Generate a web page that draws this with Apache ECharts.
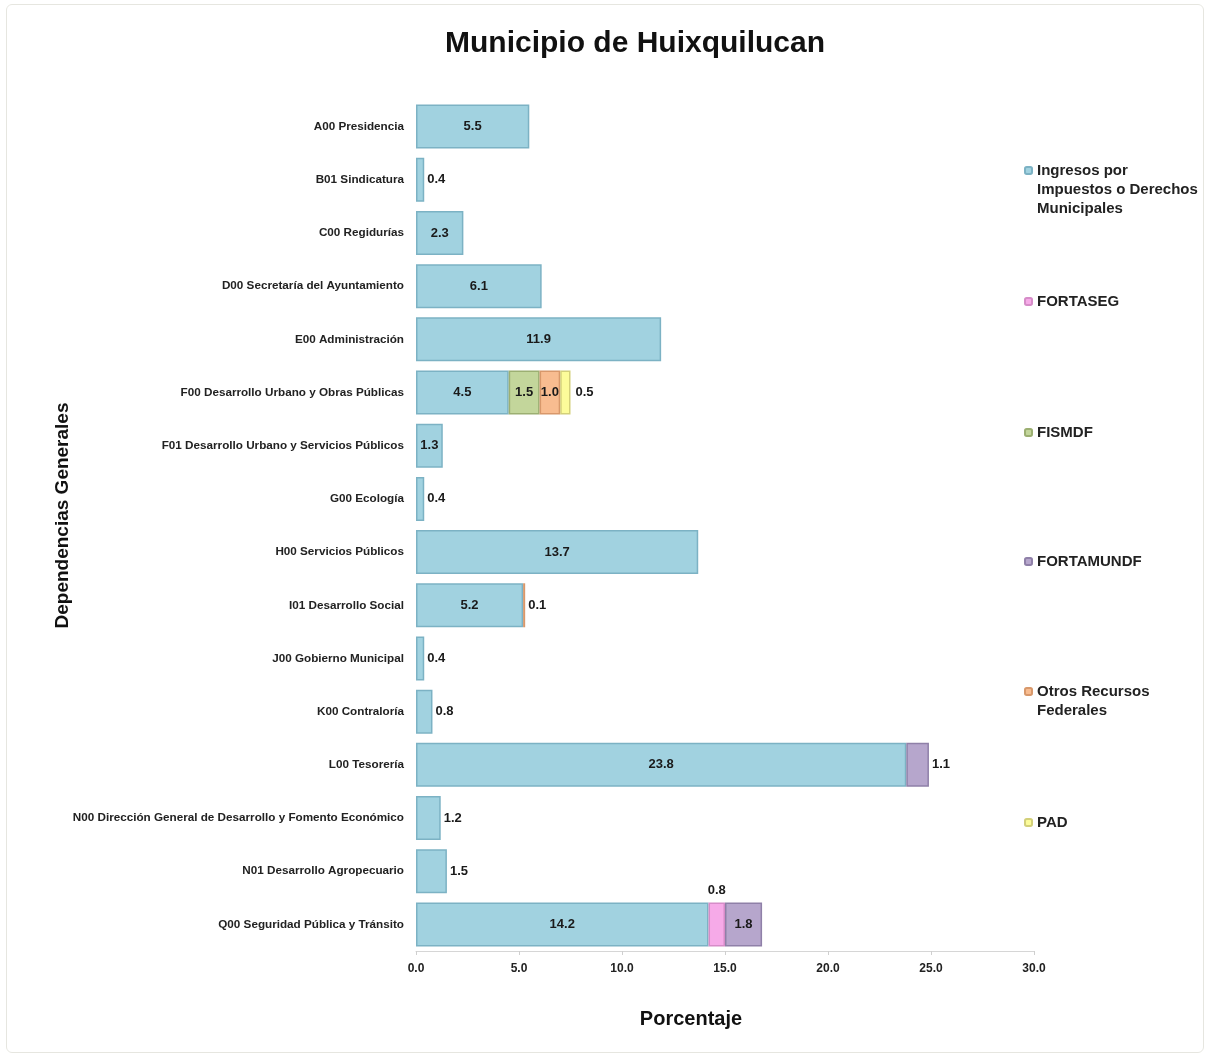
<!DOCTYPE html>
<html>
<head>
<meta charset="utf-8">
<script src="https://cdn.jsdelivr.net/npm/echarts@6/dist/echarts.min.js"></script>
<style>
  html, body { margin: 0; padding: 0; background: #fff; }
  #chart { position: absolute; left: 0; top: 0; width: 1206px; height: 1057px; }
  #frame { position: absolute; left: 6px; top: 4px; width: 1196px; height: 1047px;
           border: 1px solid #e6e6e0; border-radius: 6px; pointer-events: none; }
</style>
</head>
<body>
<div id="chart"></div>
<div id="frame"></div>
<script>
// categorias (dependencias)
const categories = [
  'A00 Presidencia',
  'B01 Sindicatura',
  'C00 Regidurías',
  'D00 Secretaría del Ayuntamiento',
  'E00 Administración',
  'F00 Desarrollo Urbano y Obras Públicas',
  'F01 Desarrollo Urbano y Servicios Públicos',
  'G00 Ecología',
  'H00 Servicios Públicos',
  'I01 Desarrollo Social',
  'J00 Gobierno Municipal',
  'K00 Contraloría',
  'L00 Tesorería',
  'N00 Dirección General de Desarrollo y Fomento Económico',
  'N01 Desarrollo Agropecuario',
  'Q00 Seguridad Pública y Tránsito'
]

const ingresos   = [5.5, 0.4, 2.3, 6.1, 11.9, 4.5, 1.3, 0.4, 13.7, 5.2, 0.4, 0.8, 23.8, 1.2, 1.5, 14.2]
const fortaseg   = [null, null, null, null, null, null, null, null, null, null, null, null, null, null, null, 0.8]
const fismdf     = [null, null, null, null, null, 1.5, null, null, null, null, null, null, null, null, null, null]
const fortamundf = [null, null, null, null, null, null, null, null, null, null, null, null, 1.1, null, null, 1.8]
const otros      = [null, null, null, null, null, 1.0, null, null, null, 0.1, null, null, null, null, null, null]
const pad        = [null, null, null, null, null, 0.5, null, null, null, null, null, null, null, null, null, null]

const xTicks = [0, 5, 10, 15, 20, 25, 30]

// config de cada serie: colores, posicion de etiquetas y leyenda
const seriesDefs = [
  { name: 'Ingresos por Impuestos o Derechos Municipales', legendLines: ['Ingresos por', 'Impuestos o Derechos', 'Municipales'],
    data: ingresos, color: '#a1d2e0', border: '#7cb2c4', pos: 'inside', outside: [1, 7, 10, 11, 13, 14], legendTop: 123 },
  { name: 'FORTASEG', legendLines: ['FORTASEG'], data: fortaseg, color: '#f6aae8', border: '#d68cc8', pos: 'top', outside: [], legendTop: 292 },
  { name: 'FISMDF', legendLines: ['FISMDF'], data: fismdf, color: '#c3d69b', border: '#9caf72', pos: 'inside', outside: [], legendTop: 423 },
  { name: 'FORTAMUNDF', legendLines: ['FORTAMUNDF'], data: fortamundf, color: '#b6a6cc', border: '#8f80a8', pos: 'inside', outside: [12], legendTop: 552 },
  { name: 'Otros Recursos Federales', legendLines: ['Otros Recursos', 'Federales'], data: otros, color: '#f8bc90', border: '#d8986b', pos: 'inside', outside: [9], legendTop: 663 },
  { name: 'PAD', legendLines: ['PAD'], data: pad, color: '#fcfc9a', border: '#d3d07a', pos: 'right', outside: [], legendTop: 813 }
]

const chart = echarts.init(document.getElementById('chart'))

const FONT = 'Liberation Sans, Arial, sans-serif'
const LINE_H = 19

const series = seriesDefs.map(def => ({
  name: def.name,
  type: 'bar',
  stack: 'total',
  barWidth: 44,
  itemStyle: { color: def.color, borderColor: def.border, borderWidth: 1.5 },
  label: {
    show: true,
    position: def.pos,
    color: '#1a1a1a',
    fontFamily: FONT,
    fontWeight: 'bold',
    fontSize: 13,
    formatter: p => (p.value == null ? '' : Number(p.value).toFixed(1))
  },
  data: def.data.map((v, i) => {
    if (v == null) return '-'
    if (def.outside.indexOf(i) >= 0) {
      return { value: v, label: { position: 'right', distance: 3 } }
    }
    return v
  })
}))

// una leyenda por serie (posiciones como en el original)
// lineas en blanco delante para que el icono quede junto a la primera linea
const legends = seriesDefs.map(def => {
  const n = def.legendLines.length
  const text = new Array(n - 1).fill('').concat(def.legendLines).join('\n')
  return {
    orient: 'vertical',
    left: 1024,
    top: def.legendTop,
    padding: 0,
    itemWidth: 7,
    itemHeight: 7,
    selectedMode: false,
    data: [def.name],
    formatter: () => text,
    textStyle: {
      fontFamily: FONT,
      fontWeight: 'bold',
      fontSize: 15,
      color: '#222',
      lineHeight: LINE_H
    }
  }
})

const option = {
  animation: false,
  backgroundColor: '#fff',
  title: {
    text: 'Municipio de Huixquilucan',
    left: 440,
    top: 24,
    textStyle: { fontFamily: FONT, fontWeight: 'bold', fontSize: 30, color: '#111' }
  },
  legend: legends,
  grid: { left: 416, right: 172, top: 100, bottom: 106, containLabel: false },
  xAxis: {
    type: 'value',
    min: xTicks[0],
    max: xTicks[xTicks.length - 1],
    interval: xTicks[1] - xTicks[0],
    name: 'Porcentaje',
    nameLocation: 'middle',
    nameGap: 58,
    nameMoveOverlap: false,
    nameTextStyle: { fontFamily: FONT, fontWeight: 'bold', fontSize: 20, color: '#111', padding: [0, 68, 0, 0] },
    axisLine: { show: true, lineStyle: { color: '#d6d6d6' } },
    axisTick: { show: true, length: 4, lineStyle: { color: '#cfcfcf' } },
    splitLine: { show: false },
    axisLabel: {
      margin: 12,
      fontFamily: FONT,
      fontWeight: 'bold',
      fontSize: 12,
      color: '#222',
      formatter: v => v.toFixed(1)
    }
  },
  yAxis: {
    type: 'category',
    inverse: true,
    data: categories,
    name: 'Dependencias Generales',
    nameLocation: 'middle',
    nameRotate: 90,
    nameGap: 344,
    nameMoveOverlap: false,
    nameTextStyle: { fontFamily: FONT, fontWeight: 'bold', fontSize: 19, color: '#111', padding: [0, 0, 0, 20] },
    axisLine: { show: false },
    axisTick: { show: false },
    axisLabel: {
      margin: 12,
      fontFamily: FONT,
      fontWeight: 'bold',
      fontSize: 11.7,
      color: '#222'
    }
  },
  series: series
}

chart.setOption(option)
</script>
</body>
</html>
